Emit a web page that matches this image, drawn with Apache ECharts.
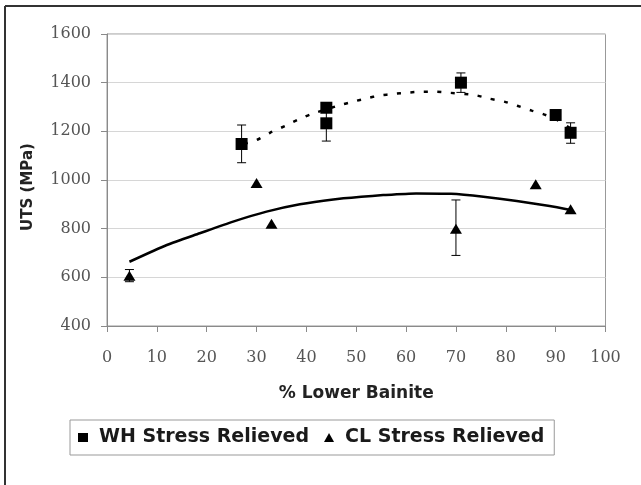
<!DOCTYPE html>
<html>
<head>
<meta charset="utf-8">
<script src="https://cdn.jsdelivr.net/npm/echarts@6/dist/echarts.min.js"></script>
<style>
html,body{margin:0;padding:0;background:#fff;}
#chart{width:641px;height:485px;}
</style>
</head>
<body>
<div id="chart"></div>
<script>
// ---- data ----
const whX    = [27, 44, 44, 71, 90, 93];
const whY    = [1148, 1297, 1233, 1400, 1267, 1194];
const whLow  = [1071, null, 1160, 1360, 1247, 1151];
const whHigh = [1226, null, 1306, 1440, 1287, 1235];

const clX    = [4.5, 30, 33, 70, 86, 93];
const clY    = [607, 988, 820, 800, 983, 880];
const clLow  = [582, null, null, 690, null, null];
const clHigh = [632, null, null, 918, null, null];

// trend curves
const whTrendX = [27.5, 30, 32.7, 35.7, 38.2, 41, 46.6, 49.4, 52.1, 54.7, 57.5, 60.2, 63.1, 65.8, 68.4, 73.8, 76.8, 79.7, 82.3, 85.2, 87.5, 90, 93];
const whTrendY = [1148, 1164, 1194, 1222, 1247, 1271, 1307, 1322, 1336, 1347, 1354, 1359, 1363, 1363, 1359, 1349, 1334, 1322, 1305, 1285, 1271, 1250, 1212];
const clTrendX = [4.5, 12, 18.6, 25.3, 32, 38.7, 45.4, 51, 55.4, 62, 69, 75.5, 82.2, 88.8, 93];
const clTrendY = [664, 733, 781, 829, 870, 900, 920, 931, 938, 945, 943, 931, 914, 893, 877];

const xTicks = {min: 0, max: 100, interval: 10};
const yTicks = {min: 400, max: 1600, interval: 200};

const seriesNames = ['WH Stress Relieved', 'CL Stress Relieved'];
const xTitle = '% Lower Bainite';
const yTitle = 'UTS (MPa)';

// ---- helpers ----
const zip = (a, b) => a.map((v, i) => [v, b[i]]);
const errData = (xs, lo, hi) => xs.map((x, i) => [x, lo[i], hi[i]]).filter(d => d[1] != null);

function errRender(params, api) {
  const x = api.value(0), lo = api.value(1), hi = api.value(2);
  const p1 = api.coord([x, lo]), p2 = api.coord([x, hi]);
  const w = 4.5;
  const st = {stroke: '#000', lineWidth: 1};
  return {type: 'group', children: [
    {type: 'line', shape: {x1: p1[0], y1: p1[1], x2: p2[0], y2: p2[1]}, style: st},
    {type: 'line', shape: {x1: p1[0] - w, y1: p1[1], x2: p1[0] + w, y2: p1[1]}, style: st},
    {type: 'line', shape: {x1: p2[0] - w, y1: p2[1], x2: p2[0] + w, y2: p2[1]}, style: st}
  ]};
}

const chart = echarts.init(document.getElementById('chart'), null, {renderer: 'canvas'});
const axisGray = '#8a8a8a';
const labelFont = {fontFamily: 'DejaVu Serif', fontSize: 16, color: '#555'};

chart.setOption({
  backgroundColor: '#fff',
  animation: false,
  grid: {left: 107, top: 34, width: 498.5, height: 292, show: true, borderColor: '#999', borderWidth: 1},
  xAxis: {
    type: 'value', min: xTicks.min, max: xTicks.max, interval: xTicks.interval,
    axisLine: {show: true, lineStyle: {color: axisGray, width: 1}},
    axisTick: {show: true, inside: false, length: 6, lineStyle: {color: axisGray}},
    axisLabel: Object.assign({margin: 24, formatter: v => String(v)}, labelFont),
    splitLine: {show: false},
    name: xTitle, nameLocation: 'middle', nameGap: 59,
    nameTextStyle: {fontFamily: 'DejaVu Sans', fontWeight: 'bold', fontSize: 17, color: '#222'}
  },
  yAxis: {
    type: 'value', min: yTicks.min, max: yTicks.max, interval: yTicks.interval,
    axisLine: {show: true, lineStyle: {color: axisGray, width: 1}},
    axisTick: {show: true, inside: false, length: 6, lineStyle: {color: axisGray}},
    axisLabel: Object.assign({margin: 16, formatter: v => String(v)}, labelFont),
    splitLine: {show: true, lineStyle: {color: '#d6d6d6', width: 1}}
  },
  legend: {
    data: [{name: seriesNames[0], icon: 'rect'}, {name: seriesNames[1], icon: 'triangle'}],
    left: 70, top: 420,
    padding: [8, 10, 8, 8],
    itemWidth: 10, itemHeight: 9, itemGap: 15,
    borderColor: '#999', borderWidth: 1,
    textStyle: {fontFamily: 'DejaVu Sans', fontWeight: 'bold', fontSize: 19, color: '#1a1a1a', padding: [0, 0, 0, 6]},
    selectedMode: false
  },
  graphic: [
    {type: 'line', shape: {x1: 5, y1: 6, x2: 641, y2: 6}, style: {stroke: '#333', lineWidth: 2}},
    {type: 'line', shape: {x1: 5, y1: 6, x2: 5, y2: 485}, style: {stroke: '#333', lineWidth: 2}},
    {type: 'text', x: 28, y: 187, rotation: Math.PI / 2,
     style: {text: yTitle, fontFamily: 'DejaVu Sans', fontWeight: 'bold', fontSize: 15, fill: '#222',
             textAlign: 'center', textVerticalAlign: 'middle'}}
  ],
  series: [
    {
      name: 'WH trend', type: 'line', data: zip(whTrendX, whTrendY), showSymbol: false, symbol: 'none',
      smooth: 0.2, lineStyle: {color: '#000', width: 2.5, type: [4, 9.5]}, z: 2, silent: true
    },
    {
      name: 'CL trend', type: 'line', data: zip(clTrendX, clTrendY), showSymbol: false, symbol: 'none',
      smooth: 0.2, lineStyle: {color: '#000', width: 2.5, type: 'solid'}, z: 2, silent: true
    },
    {
      name: 'WH err', type: 'custom', renderItem: errRender, data: errData(whX, whLow, whHigh),
      encode: {x: 0, y: [1, 2]}, z: 3, silent: true
    },
    {
      name: 'CL err', type: 'custom', renderItem: errRender, data: errData(clX, clLow, clHigh),
      encode: {x: 0, y: [1, 2]}, z: 3, silent: true
    },
    {
      name: seriesNames[0], type: 'scatter', data: zip(whX, whY), symbol: 'rect', symbolSize: 12,
      itemStyle: {color: '#000', opacity: 1}, z: 5
    },
    {
      name: seriesNames[1], type: 'scatter', data: zip(clX, clY), symbol: 'triangle', symbolSize: [12, 10],
      itemStyle: {color: '#000', opacity: 1}, z: 5
    }
  ]
});
</script>
</body>
</html>
